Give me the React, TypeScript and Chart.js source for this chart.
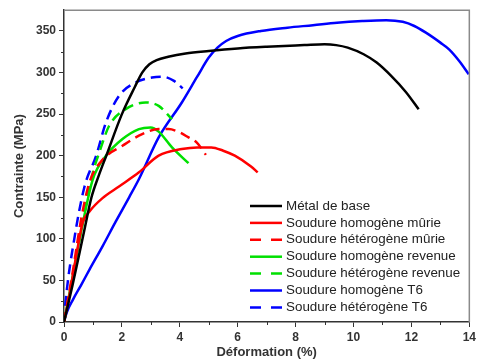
import React, { useEffect, useRef } from "react";
import { Chart, registerables } from "chart.js";

Chart.register(...registerables);

const xTicks = [0, 2, 4, 6, 8, 10, 12, 14];
const yTicks = [0, 50, 100, 150, 200, 250, 300, 350];

const seriesNames = [
  "Métal de base",
  "Soudure homogène mûrie",
  "Soudure hétérogène mûrie",
  "Soudure homogène revenue",
  "Soudure hétérogène revenue",
  "Soudure homogène T6",
  "Soudure hétérogène T6",
];
const seriesColors = ["#000000", "#ff0000", "#ff0000", "#00e000", "#00e000", "#0000ff", "#0000ff"];
const seriesDashed = [false, false, true, false, true, false, true];

const baseX = [0, 0.3, 0.7, 0.95, 1.2, 1.46, 2.0, 2.45, 2.7, 2.95, 3.2, 3.6, 4.2, 5.0, 6.0, 7.0, 8.3, 9.0, 9.4, 9.8, 10.35, 10.8, 11.3, 11.8, 12.25];
const baseY = [0, 45, 110, 150, 176, 200, 250, 283, 300, 310, 315, 319, 323, 326, 329, 331, 333, 334, 333, 330, 322, 312, 296, 277, 256];

const homMurieX = [0, 0.2, 0.45, 0.65, 0.88, 1.33, 1.9, 2.59, 3.27, 4.07, 4.6, 5.09, 5.5, 5.9, 6.46, 6.69];
const homMurieY = [0, 35, 85, 120, 133, 149, 163, 180, 200, 208, 210, 210, 206, 200, 187, 180];

const hetMurieX = [0, 0.3, 0.6, 0.88, 1.33, 2.02, 2.7, 3.27, 3.61, 4.0, 4.3, 4.58, 4.9];
const hetMurieY = [0, 60, 125, 168, 195, 212, 226, 232, 232, 228, 222, 216, 201];

const homRevX = [0, 0.3, 0.6, 0.99, 1.45, 2.02, 2.59, 2.99, 3.27, 3.73, 4.3];
const homRevY = [0, 55, 110, 171, 200, 220, 232, 234, 229, 210, 191];

const hetRevX = [0, 0.3, 0.7, 1.0, 1.22, 1.56, 2.13, 2.82, 3.27, 3.73];
const hetRevY = [0, 55, 130, 180, 204, 236, 256, 264, 260, 244];

const homT6X = [0, 0.1, 0.31, 0.6, 0.88, 1.33, 1.79, 2.25, 2.59, 3.27, 4.07, 4.6, 5.0, 5.3, 5.6, 6.0, 6.8, 7.72, 8.6, 9.43, 10.3, 11.13, 11.7, 12.1, 12.5, 13.0, 13.3, 13.65, 13.98];
const homT6Y = [0, 12, 27, 45, 63, 91, 121, 150, 172, 222, 264, 295, 318, 330, 338, 344, 350, 354, 357, 360, 362, 363, 361, 356, 348, 336, 328, 314, 298];

const hetT6X = [0, 0.05, 0.37, 0.71, 1.11, 1.45, 1.9, 2.47, 3.04, 3.4, 3.8, 4.1];
const hetT6Y = [0, 23, 103, 163, 200, 240, 272, 288, 294, 295, 290, 281];

const seriesX = [baseX, homMurieX, hetMurieX, homRevX, hetRevX, homT6X, hetT6X];
const seriesY = [baseY, homMurieY, hetMurieY, homRevY, hetRevY, homT6Y, hetT6Y];

const FONT = "Arial, 'Liberation Sans', sans-serif";

const framePlugin = {
  id: "frameAndLegend",
  afterDraw(chart: any) {
    const { ctx, chartArea } = chart;
    const { left, right, top, bottom } = chartArea;
    const xs = chart.scales.x;
    const ys = chart.scales.y;
    ctx.save();
    ctx.strokeStyle = "#8a8a8a";
    ctx.lineWidth = 1.5;
    ctx.beginPath();
    ctx.moveTo(left, top);
    ctx.lineTo(right, top);
    ctx.lineTo(right, bottom);
    ctx.stroke();
    ctx.strokeStyle = "#333";
    ctx.lineWidth = 1;
    ctx.beginPath();
    for (let v = 1; v < 14; v += 2) {
      const px = Math.round(xs.getPixelForValue(v)) + 0.5;
      ctx.moveTo(px, bottom);
      ctx.lineTo(px, bottom + 3);
    }
    for (let v = 25; v < 375; v += 50) {
      const py = Math.round(ys.getPixelForValue(v)) + 0.5;
      ctx.moveTo(left, py);
      ctx.lineTo(left - 3, py);
    }
    ctx.stroke();
    const lx0 = 250;
    const lx1 = 282;
    const startY = 206;
    const step = 16.9;
    ctx.font = `13.4px ${FONT}`;
    ctx.textBaseline = "middle";
    ctx.textAlign = "left";
    seriesNames.forEach((name, i) => {
      const y = startY + i * step;
      ctx.strokeStyle = seriesColors[i];
      ctx.lineWidth = 2.5;
      ctx.setLineDash(seriesDashed[i] ? [11, 10] : []);
      ctx.beginPath();
      ctx.moveTo(lx0, y);
      ctx.lineTo(lx1, y);
      ctx.stroke();
      ctx.setLineDash([]);
      ctx.fillStyle = "#222";
      ctx.fillText(name, 286, y);
    });
    ctx.restore();
  },
};

export default function App() {
  const canvasRef = useRef<HTMLCanvasElement | null>(null);

  useEffect(() => {
    if (!canvasRef.current) return;
    const datasets = seriesNames.map((name, i) => ({
      label: name,
      data: seriesX[i].map((x, j) => ({ x, y: seriesY[i][j] })),
      borderColor: seriesColors[i],
      backgroundColor: seriesColors[i],
      borderWidth: 2.5,
      borderDash: seriesDashed[i] ? [10, 6] : [],
      pointRadius: 0,
      fill: false,
      cubicInterpolationMode: "monotone" as const,
    }));

    const chart = new Chart(canvasRef.current, {
      type: "line",
      data: { datasets },
      plugins: [framePlugin],
      options: {
        animation: false,
        responsive: false,
        maintainAspectRatio: false,
        layout: { padding: { left: 0, right: 6, top: 10, bottom: 0 } },
        plugins: { legend: { display: false }, tooltip: { enabled: false } },
        scales: {
          x: {
            type: "linear",
            min: 0,
            max: 14,
            afterBuildTicks: (scale: any) => {
              scale.ticks = xTicks.map((v) => ({ value: v }));
            },
            afterFit: (scale: any) => {
              scale.height = 38;
            },
            ticks: {
              font: { family: FONT, size: 12, weight: "bold" },
              color: "#333",
              padding: 3,
              maxRotation: 0,
            },
            grid: {
              drawOnChartArea: false,
              drawTicks: true,
              tickLength: 5,
              tickColor: "#333",
              tickWidth: 1,
            },
            border: { color: "#333", width: 1.5 },
            title: {
              display: true,
              text: "Déformation (%)",
              font: { family: FONT, size: 13, weight: "bold" },
              color: "#333",
              padding: { top: 0, bottom: 0 },
            },
          },
          y: {
            type: "linear",
            min: 0,
            max: 375,
            afterBuildTicks: (scale: any) => {
              scale.ticks = yTicks.map((v) => ({ value: v }));
            },
            afterFit: (scale: any) => {
              scale.width = 64;
            },
            ticks: {
              font: { family: FONT, size: 12, weight: "bold" },
              color: "#333",
              padding: 3,
            },
            grid: {
              drawOnChartArea: false,
              drawTicks: true,
              tickLength: 5,
              tickColor: "#333",
              tickWidth: 1,
            },
            border: { color: "#333", width: 1.5 },
            title: {
              display: true,
              text: "Contrainte (MPa)",
              font: { family: FONT, size: 13, weight: "bold" },
              color: "#333",
              padding: { top: 12, bottom: 0 },
            },
          },
        },
      },
    });
    return () => chart.destroy();
  }, []);

  return (
    <div style={{ position: "absolute", left: 0, top: 0, width: 479, height: 360 }}>
      <canvas ref={canvasRef} width={479} height={360} style={{ width: 479, height: 360 }} />
    </div>
  );
}
